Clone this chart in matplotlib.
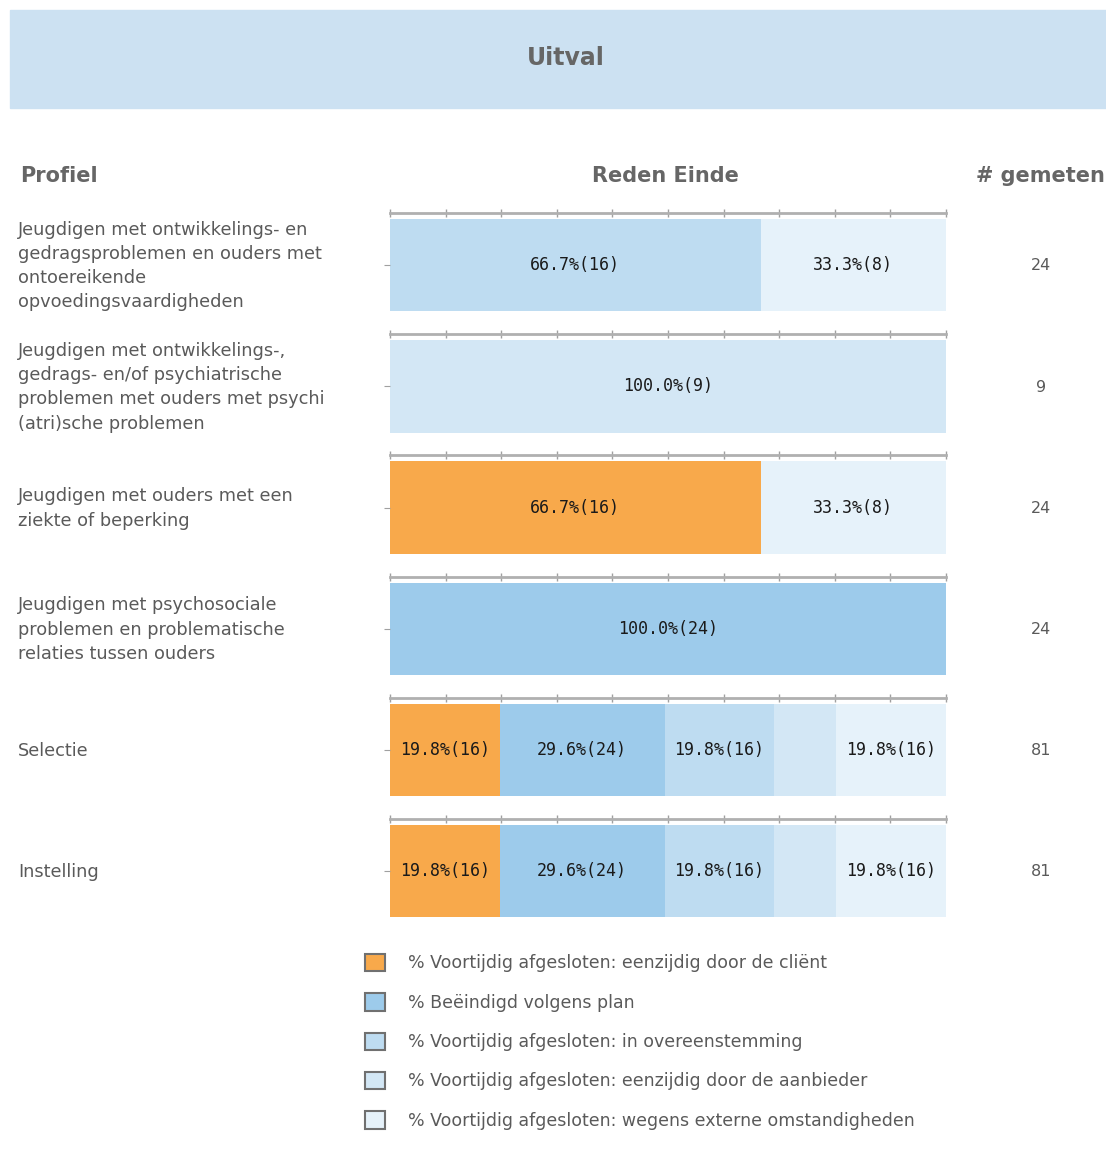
import matplotlib.pyplot as plt
from matplotlib.patches import Rectangle, Patch

# data
profielen = [
    "Jeugdigen met ontwikkelings- en\ngedragsproblemen en ouders met\nontoereikende\nopvoedingsvaardigheden",
    "Jeugdigen met ontwikkelings-,\ngedrags- en/of psychiatrische\nproblemen met ouders met psychi\n(atri)sche problemen",
    "Jeugdigen met ouders met een\nziekte of beperking",
    "Jeugdigen met psychosociale\nproblemen en problematische\nrelaties tussen ouders",
    "Selectie",
    "Instelling",
]
redenen = [
    "% Voortijdig afgesloten: eenzijdig door de cliënt",
    "% Beëindigd volgens plan",
    "% Voortijdig afgesloten: in overeenstemming",
    "% Voortijdig afgesloten: eenzijdig door de aanbieder",
    "% Voortijdig afgesloten: wegens externe omstandigheden",
]
client = [0, 0, 16, 0, 16, 16]
plan = [0, 0, 0, 24, 24, 24]
overeen = [16, 0, 0, 0, 16, 16]
aanbieder = [0, 9, 0, 0, 9, 9]
extern = [8, 0, 8, 0, 16, 16]
gemeten = [24, 9, 24, 24, 81, 81]

kleuren = ["#F8A94B", "#9DCBEB", "#BEDCF1", "#D3E7F5", "#E6F2FA"]
reeksen = [client, plan, overeen, aanbieder, extern]

W, H = 1106, 1155
fig = plt.figure(figsize=(W / 100, H / 100), dpi=100)
tekst = "#5a5a5a"
kop = "#666666"

# titelbalk
fig.patches.append(Rectangle((10 / W, 1 - 108 / H), 1096 / W, 98 / H,
                             transform=fig.transFigure, color="#CCE1F2", zorder=0))
fig.text(566 / W, 1 - 58 / H, "Uitval", ha="center", va="center",
         fontsize=17, fontweight="bold", color=kop)

# kolomkoppen
fig.text(20 / W, 1 - 176 / H, "Profiel", va="center", fontsize=15, fontweight="bold", color=kop)
fig.text(665 / W, 1 - 176 / H, "Reden Einde", ha="center", va="center", fontsize=15, fontweight="bold", color=kop)
fig.text(1040 / W, 1 - 176 / H, "# gemeten", ha="center", va="center", fontsize=15, fontweight="bold", color=kop)

x0, x1 = 390, 946
for i in range(len(profielen)):
    top = 213 + 121.2 * i
    ax = fig.add_axes([x0 / W, 1 - (top + 104) / H, (x1 - x0) / W, 104 / H])
    links = 0
    for s in range(len(reeksen)):
        n = reeksen[s][i]
        if n == 0:
            continue
        pct = 100 * n / gemeten[i]
        ax.barh(0, pct, left=links, height=1, color=kleuren[s], edgecolor="none")
        if pct > 12:
            ax.text(links + pct / 2, 0, "%.1f%%(%d)" % (pct, n), ha="center", va="center",
                    fontsize=12, color="#1a1a1a", family="DejaVu Sans Mono")
        links += pct
    ax.set_xlim(0, 100)
    ax.set_ylim(-0.56, 0.565)
    for k in ["left", "right", "bottom"]:
        ax.spines[k].set_visible(False)
    ax.spines["top"].set_color("#b0b0b0")
    ax.spines["top"].set_linewidth(2)
    ax.set_xticks(range(0, 101, 10))
    ax.tick_params(axis="x", top=True, bottom=False, labeltop=False, labelbottom=False,
                   direction="inout", length=6, color="#a0a0a0", width=1)
    ax.set_yticks([0])
    ax.set_yticklabels([])
    ax.tick_params(axis="y", length=4, color="#a0a0a0")
    ax.set_facecolor("none")

    ymid = 1 - (top + 53) / H
    fig.text(18 / W, ymid, profielen[i], va="center", ha="left", fontsize=12.8,
             color=tekst, linespacing=1.45)
    fig.text(1041 / W, ymid, str(gemeten[i]), va="center", ha="center", fontsize=11.5, color=tekst)

# legenda
handles = [Patch(facecolor=c, edgecolor="#707070", linewidth=1.5) for c in kleuren]
fig.legend(handles, redenen, loc="upper left", bbox_to_anchor=(365 / W, 1 - 954 / H),
           frameon=False, fontsize=12.5, labelcolor=tekst, handlelength=1.15, handleheight=1.15,
           handletextpad=1.35, labelspacing=1.2, borderaxespad=0, borderpad=0)

fig.savefig("out.png", dpi=100, facecolor="white")
